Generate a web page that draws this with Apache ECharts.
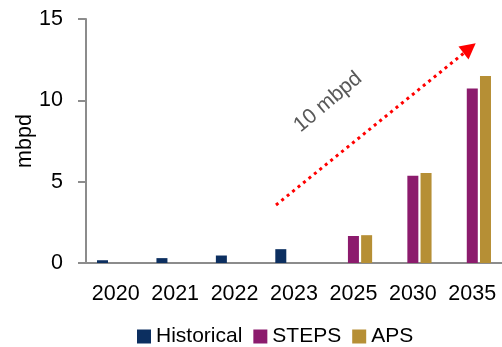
<!DOCTYPE html>
<html>
<head>
<meta charset="utf-8">
<script src="https://cdn.jsdelivr.net/npm/echarts@6/dist/echarts.min.js"></script>
<style>html,body{margin:0;padding:0;background:#fff;}#c{width:502px;height:347px;}</style>
</head>
<body>
<div id="c"></div>
<script>
const categories = ['2020', '2021', '2022', '2023', '2025', '2030', '2035'];
const historical = [0.17, 0.3, 0.46, 0.85, null, null, null];
const steps = [null, null, null, null, 1.66, 5.36, 10.72];
const aps = [null, null, null, null, 1.71, 5.53, 11.5];
const yTicks = [0, 5, 10, 15];

const font = 'Liberation Sans, Arial, sans-serif';
const axisColor = '#8c8c8c';

const chart = echarts.init(document.getElementById('c'), null, {renderer: 'canvas'});
chart.setOption({
  animation: false,
  backgroundColor: '#fff',
  textStyle: {fontFamily: font},
  grid: {left: 86, top: 19, width: 419, height: 244, containLabel: false},
  legend: {
    left: 137, top: 326, padding: 0, icon: 'rect', itemWidth: 14, itemHeight: 14, itemGap: 11,
    textStyle: {fontSize: 21, color: '#000', fontFamily: font},
    data: ['Historical', 'STEPS', 'APS']
  },
  xAxis: {
    type: 'category', data: categories,
    axisLine: {lineStyle: {color: axisColor, width: 2}},
    axisTick: {length: 7, lineStyle: {color: axisColor, width: 2}},
    axisLabel: {interval: 0, margin: 20, fontSize: 21.5, color: '#000', fontFamily: font}
  },
  yAxis: {
    type: 'value', min: yTicks[0], max: yTicks[yTicks.length - 1], interval: 5,
    name: 'mbpd', nameLocation: 'middle', nameRotate: 90, nameGap: 50, nameMoveOverlap: false,
    nameTextStyle: {fontSize: 21.5, color: '#000', fontFamily: font},
    axisLine: {show: true, lineStyle: {color: axisColor, width: 2}},
    axisTick: {show: true, length: 8, lineStyle: {color: axisColor, width: 2}},
    splitLine: {show: false},
    axisLabel: {margin: 23, fontSize: 21.5, color: '#000', fontFamily: font}
  },
  series: [
    {name: 'Historical', type: 'bar', data: historical, barWidth: 11, barGap: '20%', itemStyle: {color: '#0c2f60'}},
    {name: 'STEPS', type: 'bar', data: steps, barWidth: 11, barGap: '20%', itemStyle: {color: '#8c1b6d'}},
    {name: 'APS', type: 'bar', data: aps, barWidth: 11, barGap: '20%', itemStyle: {color: '#b68f35'}}
  ],
  graphic: [
    {type: 'line', shape: {x1: 276, y1: 205, x2: 464, y2: 53},
     style: {stroke: '#ff0000', lineWidth: 3, lineDash: [3, 4]}, z: 100},
    {type: 'polygon', shape: {points: [[475.7, 43.3], [458.5, 46.5], [468.5, 59.5]]},
     style: {fill: '#ff0000'}, z: 100},
    {type: 'text', x: 328, y: 102, rotation: 0.7,
     style: {text: '10 mbpd', fill: '#595959', font: '21px ' + font, align: 'center', verticalAlign: 'middle'}, z: 100}
  ]
});
</script>
</body>
</html>
